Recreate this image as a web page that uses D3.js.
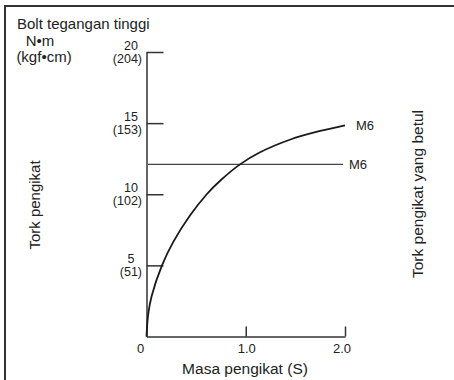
<!DOCTYPE html>
<html>
<head>
<meta charset="utf-8">
<script src="https://cdn.jsdelivr.net/npm/d3@7"></script>
<style>
  html, body { margin: 0; padding: 0; background: #fff; }
  svg { display: block; font-family: "Liberation Sans", Arial, Helvetica, sans-serif; }
</style>
</head>
<body>
<script>
// ---- data ----
const curveX = [0, 0.018, 0.052, 0.156, 0.27, 0.438, 0.607, 0.75, 0.942, 1.144, 1.45, 1.75, 2.0];
const curveY = [0, 1.6, 2.85, 5.0, 6.65, 8.5, 10.0, 11.0, 12.1, 12.95, 13.85, 14.45, 14.85];
const correctTorque = [12.1, 12.1];
const correctX = [0.015, 1.98];
const yTickValues = [5, 10, 15, 20];
const yTickLabels = ["5", "10", "15", "20"];
const yTickKgf = ["(51)", "(102)", "(153)", "(204)"];
const xTickValues = [0, 1, 2];
const xTickLabels = ["0", "1.0", "2.0"];
const seriesLabels = ["M6", "M6"];

const W = 454, H = 380;
const svg = d3.select("body").append("svg").attr("width", W).attr("height", H);

// frame
svg.append("path").attr("d", `M5,380 L5,6 L454,6`)
  .attr("fill", "none").attr("stroke", "#333").attr("stroke-width", 2);

const x = d3.scaleLinear().domain([0, 2]).range([146.5, 345]);
const y = d3.scaleLinear().domain([0, 20]).range([336.5, 52]);

const axisColor = "#333";

// y axis
const gy = svg.append("g").attr("transform", `translate(${x(0)},0)`)
  .call(d3.axisRight(y).tickValues(yTickValues).tickSize(17).tickSizeOuter(0).tickFormat(""));
gy.selectAll("path,line").attr("stroke", axisColor).attr("stroke-width", 1.5);

// x axis
const gx = svg.append("g").attr("transform", `translate(0,${y(0)})`)
  .call(d3.axisTop(x).tickValues([1, 2]).tickSize(10).tickSizeOuter(0).tickFormat(""));
gx.selectAll("path,line").attr("stroke", axisColor).attr("stroke-width", 1.5);

const txt = "#222";

// y tick labels
yTickValues.forEach((v, i) => {
  svg.append("text").attr("x", 131).attr("y", y(v) - 2)
    .attr("text-anchor", "middle").attr("font-size", 12.5).attr("fill", txt).text(yTickLabels[i]);
  svg.append("text").attr("x", 142).attr("y", y(v) + 11)
    .attr("text-anchor", "end").attr("font-size", 12.5).attr("fill", txt).text(yTickKgf[i]);
});

// x tick labels
const xLabelOffset = [-6, 1, -3];
xTickValues.forEach((v, i) => {
  svg.append("text").attr("x", x(v) + xLabelOffset[i]).attr("y", 352.5)
    .attr("text-anchor", "middle").attr("font-size", 13).attr("fill", txt).text(xTickLabels[i]);
});

// correct torque line
svg.append("line")
  .attr("x1", x(correctX[0])).attr("x2", x(correctX[1]))
  .attr("y1", y(correctTorque[0])).attr("y2", y(correctTorque[1]))
  .attr("stroke", "#444").attr("stroke-width", 1.3);

// curve
const pts = curveX.map((d, i) => [d, curveY[i]]);
svg.append("path").datum(pts)
  .attr("d", d3.line().x(d => x(d[0])).y(d => y(d[1])).curve(d3.curveCatmullRom.alpha(0.5)))
  .attr("fill", "none").attr("stroke", "#1a1a1a").attr("stroke-width", 1.8);

// series labels
svg.append("text").attr("x", x(2) + 11).attr("y", y(curveY[curveY.length - 1]) + 5)
  .attr("font-size", 13).attr("fill", txt).text(seriesLabels[0]);
svg.append("text").attr("x", x(correctX[1]) + 6).attr("y", y(correctTorque[0]) + 5)
  .attr("font-size", 13).attr("fill", txt).text(seriesLabels[1]);

// titles
svg.append("text").attr("x", 17).attr("y", 29).attr("font-size", 15).attr("fill", txt).text("Bolt tegangan tinggi");
svg.append("text").attr("x", 40).attr("y", 46).attr("text-anchor", "middle").attr("font-size", 15).attr("fill", txt).text("N•m");
svg.append("text").attr("x", 44).attr("y", 62).attr("text-anchor", "middle").attr("font-size", 15).attr("fill", txt).text("(kgf•cm)");

svg.append("text").attr("x", 245).attr("y", 374).attr("text-anchor", "middle").attr("font-size", 15.5).attr("fill", txt).text("Masa pengikat (S)");

svg.append("text").attr("transform", "translate(40,205) rotate(-90)")
  .attr("text-anchor", "middle").attr("font-size", 15).attr("fill", txt).text("Tork pengikat");
svg.append("text").attr("transform", "translate(423,194) rotate(-90)")
  .attr("text-anchor", "middle").attr("font-size", 15.5).attr("fill", txt).text("Tork pengikat yang betul");
</script>
</body>
</html>
